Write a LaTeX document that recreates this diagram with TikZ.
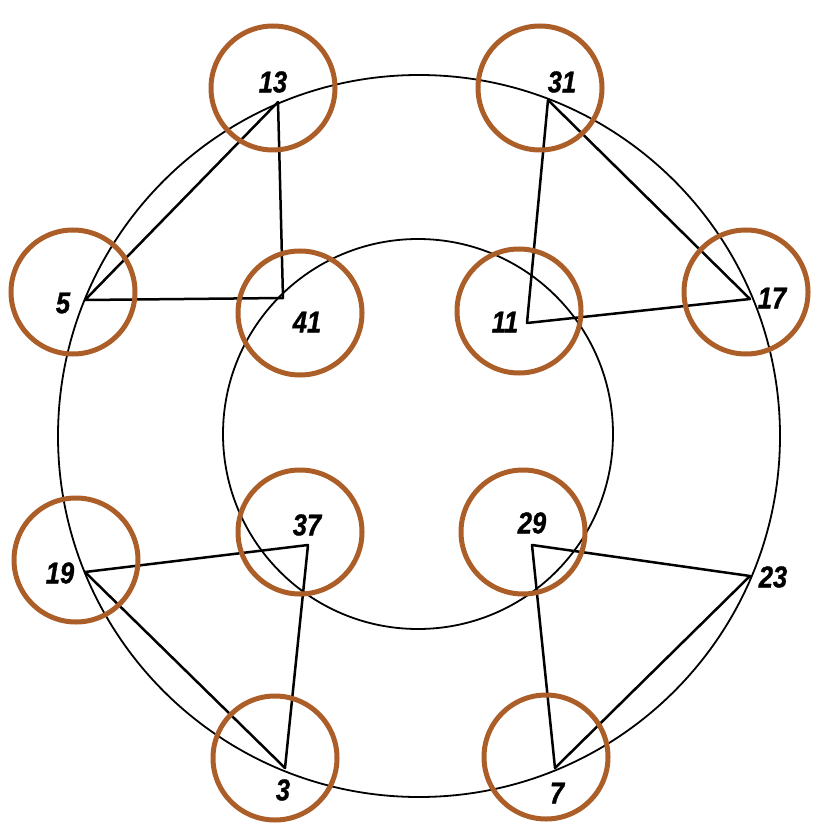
\documentclass[tikz,border=0pt]{standalone}
\usepackage{fontspec}
\setmainfont{Liberation Sans}[FakeBold=1.2]
\definecolor{ringc}{RGB}{172,94,40}
\begin{document}
\begin{tikzpicture}[x=1pt,y=-1pt,
  ring/.style={circle,draw=ringc,line width=5pt,minimum size=124pt,inner sep=0pt},
  lab/.style={font=\fontsize{30}{30}\selectfont\bfseries\itshape,inner sep=0pt},
  edge/.style={line width=2.5pt,line join=round,line cap=round},
  guide/.style={circle,draw,line width=1.8pt,inner sep=0pt}]
\useasboundingbox (0,0) rectangle (817,826);
% guide circles
\node[guide,minimum size=722pt] (outer) at (419,436) {};
\node[guide,minimum size=390pt] (inner) at (418,434) {};
% vertices
\coordinate (v5) at (85,300);
\coordinate (v13) at (278,102);
\coordinate (v41) at (283,298);
\coordinate (v31) at (548,100);
\coordinate (v11) at (527,323);
\coordinate (v17) at (750,299);
\coordinate (v19) at (85,572);
\coordinate (v37) at (308,545);
\coordinate (v3) at (285,768);
\coordinate (v29) at (532,545);
\coordinate (v23) at (750,576);
\coordinate (v7) at (555,768);
% triangles
\draw[edge] (v5) -- (v13) -- (v41) -- cycle;
\draw[edge] (v31) -- (v11) -- (v17) -- cycle;
\draw[edge] (v19) -- (v37) -- (v3) -- cycle;
\draw[edge] (v29) -- (v23) -- (v7) -- cycle;
% labels
\node[lab] (l13) at (273,82) {\scalebox{0.85}[1]{13}};
\node[lab] (l5) at (63,303) {\scalebox{0.85}[1]{5}};
\node[lab] (l41) at (307,322) {\scalebox{0.85}[1]{41}};
\node[lab] (l31) at (562,82) {\scalebox{0.85}[1]{31}};
\node[lab] (l11) at (505,322) {\scalebox{0.85}[1]{11}};
\node[lab] (l17) at (772,298) {\scalebox{0.85}[1]{17}};
\node[lab] (l19) at (60,573) {\scalebox{0.85}[1]{19}};
\node[lab] (l37) at (307,525) {\scalebox{0.85}[1]{37}};
\node[lab] (l3) at (283,790) {\scalebox{0.85}[1]{3}};
\node[lab] (l29) at (532,523) {\scalebox{0.85}[1]{29}};
\node[lab] (l23) at (773,577) {\scalebox{0.85}[1]{23}};
\node[lab] (l7) at (557,793) {\scalebox{0.85}[1]{7}};
% orange rings
\node[ring] (r13) at (273,88) {};
\node[ring] (r5) at (73,292) {};
\node[ring] (r41) at (300,313) {};
\node[ring] (r31) at (540,88) {};
\node[ring] (r11) at (519,311) {};
\node[ring] (r17) at (746,292) {};
\node[ring] (r19) at (76,560) {};
\node[ring] (r37) at (300,532) {};
\node[ring] (r3) at (275,758) {};
\node[ring] (r29) at (523,532) {};
\node[ring] (r7) at (546,757) {};
\end{tikzpicture}
\end{document}
